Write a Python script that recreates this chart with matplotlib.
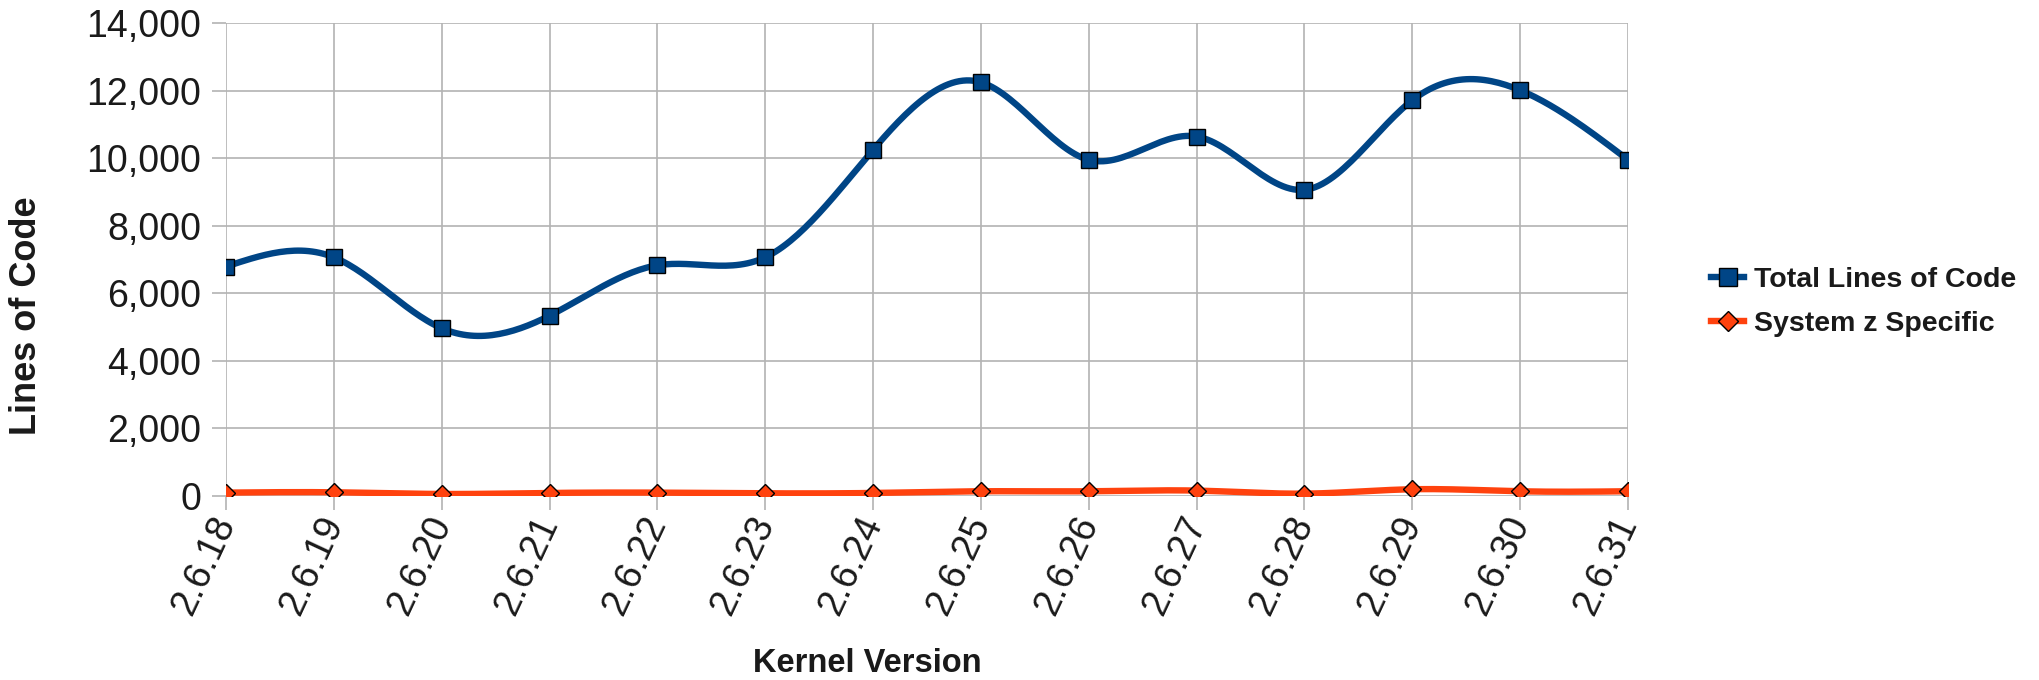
import numpy as np
import matplotlib
matplotlib.use("Agg")
import matplotlib.pyplot as plt
from matplotlib.ticker import FuncFormatter

versions = ["2.6.18", "2.6.19", "2.6.20", "2.6.21", "2.6.22", "2.6.23", "2.6.24",
            "2.6.25", "2.6.26", "2.6.27", "2.6.28", "2.6.29", "2.6.30", "2.6.31"]
total_loc = [6790, 7065, 4965, 5337, 6828, 7065, 10245,
             12245, 9950, 10640, 9063, 11713, 12010, 9950]
sysz_loc = [100, 110, 60, 90, 100, 80, 90,
            140, 140, 160, 70, 200, 140, 140]

BLUE = "#004586"
ORANGE = "#ff420e"
GRID = "#b3b3b3"

plt.rcParams['font.family'] = ['Liberation Sans', 'DejaVu Sans']


def smooth(y, n=30):
    # natural cubic spline through the points, just for drawing the curve
    y = np.asarray(y, float)
    k = len(y)
    x = np.arange(k, dtype=float)
    A = np.zeros((k, k))
    b = np.zeros(k)
    A[0, 0] = A[-1, -1] = 1
    for i in range(1, k - 1):
        A[i, i - 1], A[i, i], A[i, i + 1] = 1, 4, 1
        b[i] = 6 * (y[i + 1] - 2 * y[i] + y[i - 1])
    m = np.linalg.solve(A, b)
    xs, ys = [], []
    for i in range(k - 1):
        t = np.linspace(0, 1, n, endpoint=(i == k - 2))
        a = y[i]
        c = (y[i + 1] - y[i]) - (2 * m[i] + m[i + 1]) / 6
        d = m[i] / 2
        e = (m[i + 1] - m[i]) / 6
        xs.append(x[i] + t)
        ys.append(a + c * t + d * t ** 2 + e * t ** 3)
    return np.concatenate(xs), np.concatenate(ys)


fig = plt.figure(figsize=(20.39, 6.80), dpi=100)
ax = fig.add_axes([226 / 2039, 1 - 496 / 680, (1628 - 226) / 2039, (496 - 23) / 680])

pos = np.arange(len(versions))
sx, sy = smooth(total_loc)
ax.plot(sx, sy, color=BLUE, lw=4.6, solid_capstyle='butt', zorder=3)
ax.plot(pos, total_loc, ls='none', marker='s', ms=12, mfc=BLUE, mec='black',
        mew=1, zorder=4)
ox, oy = smooth(sysz_loc)
ax.plot(ox, oy, color=ORANGE, lw=4.6, zorder=3)
ax.plot(pos, sysz_loc, ls='none', marker='D', ms=9, mfc=ORANGE, mec='black',
        mew=1, zorder=4)

ax.set_xlim(0, len(versions) - 1)
ax.set_ylim(0, 14000)
ax.set_yticks(range(0, 14001, 2000))
ax.yaxis.set_major_formatter(FuncFormatter(lambda v, p: f"{int(v):,}"))
ax.set_xticks(pos)
ax.set_xticklabels(versions, rotation=65, ha='right', va='center',
                   rotation_mode='anchor')
ax.tick_params(axis='both', colors=GRID, labelcolor='#1a1a1a', labelsize=27,
               length=10, width=1.2)
ax.tick_params(axis='x', pad=6)
ax.tick_params(axis='y', pad=8)
ax.grid(True, color=GRID, lw=1.2)
ax.set_axisbelow(True)
for s in ax.spines.values():
    s.set_visible(False)

fig.text(27 / 2039, 1 - 316 / 680, "Lines of Code", rotation=90, fontsize=26,
         fontweight='bold', ha='center', va='center', color='#1a1a1a')
fig.text(867 / 2039, 1 - 663 / 680, "Kernel Version", fontsize=23.5,
         fontweight='bold', ha='center', va='center', color='#1a1a1a')

# legend
h1, = ax.plot([], [], color=BLUE, lw=4.6, marker='s', ms=13, mfc=BLUE, mec='black')
h2, = ax.plot([], [], color=ORANGE, lw=4.6, marker='D', ms=10, mfc=ORANGE, mec='black')
leg = fig.legend([h1, h2], ["Total Lines of Code", "System z Specific"],
                 loc='center left', bbox_to_anchor=(1700 / 2039, 1 - 302 / 680),
                 frameon=False, handlelength=1.15, handletextpad=0.35,
                 labelspacing=0.6, borderaxespad=0,
                 prop={'size': 20.5, 'weight': 'bold'})
for t in leg.get_texts():
    t.set_color('#1a1a1a')

fig.savefig("out.png", dpi=100)
